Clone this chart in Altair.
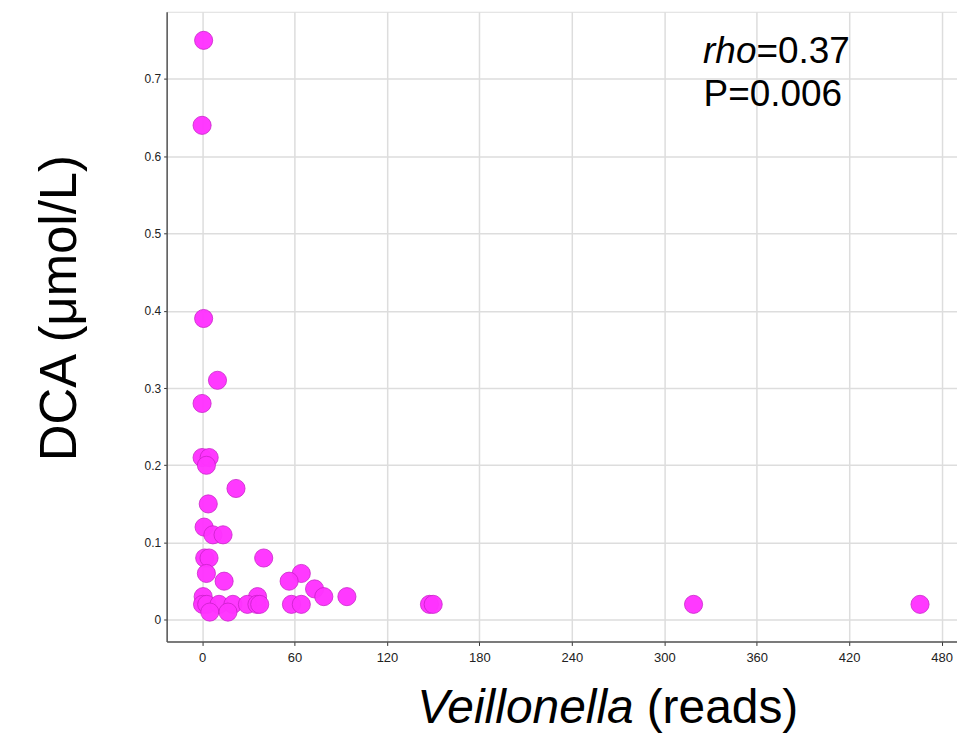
import altair as alt
import pandas as pd

# Veillonella reads (x) and DCA umol/L (y)
reads = [1, 0, 1, 10, 0,
         0, 4.6, 2.8, 22, 4,
         1.3, 7, 13.6, 40, 1.7, 4.5,
         2.8, 64.4, 14.3, 56.5, 73, 79, 94, 36, 0.7,
         0.3, 3, 11, 20, 29.4, 35.6, 37.4, 58, 64.4, 147.6, 150, 319, 466,
         5, 16.8]
dca = [0.75, 0.64, 0.39, 0.31, 0.28,
       0.21, 0.21, 0.20, 0.17, 0.15,
       0.12, 0.11, 0.11, 0.08, 0.08, 0.08,
       0.06, 0.06, 0.05, 0.05, 0.04, 0.03, 0.03, 0.03, 0.03,
       0.02, 0.02, 0.02, 0.02, 0.02, 0.02, 0.02, 0.02, 0.02, 0.02, 0.02, 0.02, 0.02,
       0.01, 0.01]

x_ticks = [0, 60, 120, 180, 240, 300, 360, 420, 480]
y_ticks = [0, 0.1, 0.2, 0.3, 0.4, 0.5, 0.6, 0.7]

df = pd.DataFrame({"reads": reads, "dca": dca})

FONT = "Liberation Sans"

points = alt.Chart(df).mark_circle(
    size=330, color="#ff33ff", opacity=0.97, stroke="#c81fc8", strokeWidth=0.8
).encode(
    x=alt.X("reads:Q", scale=alt.Scale(domain=[-23, 490], nice=False, zero=False),
            axis=alt.Axis(values=x_ticks, title=None, grid=True, gridColor="#dddddd",
                          gridWidth=1.5, domainColor="#555555", domainWidth=1.5,
                          tickColor="#333333", tickSize=4, labelFontSize=13,
                          labelFont=FONT, labelColor="#222222", labelPadding=6)),
    y=alt.Y("dca:Q", scale=alt.Scale(domain=[-0.028, 0.787], nice=False, zero=False),
            axis=alt.Axis(values=y_ticks, title=None, grid=True, gridColor="#dddddd",
                          gridWidth=1.5, domainColor="#555555", domainWidth=1.5,
                          tickColor="#333333", tickSize=3, labelFontSize=12,
                          labelFont=FONT, labelColor="#222222", labelPadding=3,
                          format=".1~f")),
)

def txt(text, x, y, size, style="normal", align="left", angle=0, baseline="alphabetic"):
    return alt.Chart(pd.DataFrame({"t": [text]})).mark_text(
        font=FONT, fontSize=size, fontStyle=style, align=align, angle=angle,
        baseline=baseline, color="#000000"
    ).encode(text="t:N", x=alt.value(x), y=alt.value(y))

ann = [
    txt("rho", 591, 51, 37, style="italic", align="right"),
    txt("=0.37", 591, 51, 37, align="left"),
    txt("P=0.006", 538, 94, 37, align="left"),
    txt("Veillonella", 468, 713, 48, style="italic", align="right"),
    txt("(reads)", 481, 713, 48, align="left"),
    txt("DCA (\u03bcmol/L)", -91, 297, 51, align="center", angle=270),
]

chart = alt.layer(points, *ann).properties(
    width=792, height=631,
    padding={"left": 167, "top": 11, "right": 0, "bottom": 110},
    autosize="none",
).configure_view(stroke="#999999", strokeWidth=2).configure(background="white")

chart.save("out.html", embed_options={"renderer": "svg", "actions": False})
